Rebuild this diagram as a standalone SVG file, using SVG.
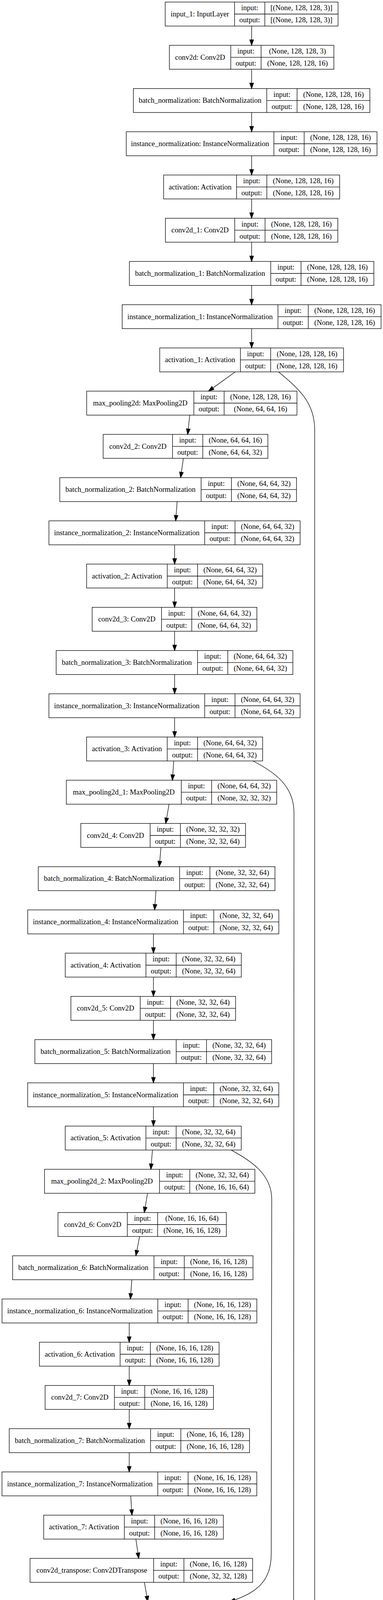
<svg xmlns="http://www.w3.org/2000/svg" width="981" height="7488" viewBox="0 0 981 7488">
<style>
.n rect{fill:#fff;stroke:#000;stroke-width:1.33}
.n path{fill:none;stroke:#000;stroke-width:1.33}
text{font-family:"Liberation Serif","Times New Roman",serif;font-size:18.67px;text-anchor:middle;fill:#000}
.e path{fill:none;stroke:#000;stroke-width:1.33;marker-end:url(#ah)}
</style>
<defs>
<marker id="ah" markerUnits="userSpaceOnUse" markerWidth="14" markerHeight="10" refX="13.33" refY="4.67" orient="auto" viewBox="0 0 13.33 9.33" overflow="visible">
<path d="M0,0 L13.33,4.67 L0,9.33 Z" fill="#000" stroke="#000" stroke-width="1.33"/>
</marker>
</defs>
<rect width="981" height="7488" fill="#fff"/>
<g id="nodes">
<g id="input_1" class="n" transform="translate(423.15,5.33)"><rect width="442.7" height="61.33"/><path d="M177.6,0V61.33M255.2,0V61.33M177.6,30.67H442.7"/><text x="88.8" y="36.5">input_1: InputLayer</text><text x="216.4" y="21">input:</text><text x="216.4" y="52">output:</text><text x="348.95" y="21">[(None, 128, 128, 3)]</text><text x="348.95" y="52">[(None, 128, 128, 3)]</text></g>
<g id="conv2d" class="n" transform="translate(433.8,116)"><rect width="421.4" height="61.33"/><path d="M157.3,0V61.33M234.9,0V61.33M157.3,30.67H421.4"/><text x="78.65" y="36.5">conv2d: Conv2D</text><text x="196.1" y="21">input:</text><text x="196.1" y="52">output:</text><text x="328.15" y="21">(None, 128, 128, 3)</text><text x="328.15" y="52">(None, 128, 128, 16)</text></g>
<g id="batch_normalization" class="n" transform="translate(341.6,226.67)"><rect width="605.8" height="61.33"/><path d="M341.7,0V61.33M419.3,0V61.33M341.7,30.67H605.8"/><text x="170.85" y="36.5">batch_normalization: BatchNormalization</text><text x="380.5" y="21">input:</text><text x="380.5" y="52">output:</text><text x="512.55" y="21">(None, 128, 128, 16)</text><text x="512.55" y="52">(None, 128, 128, 16)</text></g>
<g id="instance_normalization" class="n" transform="translate(323.4,337.34)"><rect width="642.2" height="61.33"/><path d="M378.1,0V61.33M455.7,0V61.33M378.1,30.67H642.2"/><text x="189.05" y="36.5">instance_normalization: InstanceNormalization</text><text x="416.9" y="21">input:</text><text x="416.9" y="52">output:</text><text x="548.95" y="21">(None, 128, 128, 16)</text><text x="548.95" y="52">(None, 128, 128, 16)</text></g>
<g id="activation" class="n" transform="translate(419.05,448.01)"><rect width="450.9" height="61.33"/><path d="M186.8,0V61.33M264.4,0V61.33M186.8,30.67H450.9"/><text x="93.4" y="36.5">activation: Activation</text><text x="225.6" y="21">input:</text><text x="225.6" y="52">output:</text><text x="357.65" y="21">(None, 128, 128, 16)</text><text x="357.65" y="52">(None, 128, 128, 16)</text></g>
<g id="conv2d_1" class="n" transform="translate(423.65,558.68)"><rect width="441.7" height="61.33"/><path d="M177.6,0V61.33M255.2,0V61.33M177.6,30.67H441.7"/><text x="88.8" y="36.5">conv2d_1: Conv2D</text><text x="216.4" y="21">input:</text><text x="216.4" y="52">output:</text><text x="348.45" y="21">(None, 128, 128, 16)</text><text x="348.45" y="52">(None, 128, 128, 16)</text></g>
<g id="batch_normalization_1" class="n" transform="translate(331.45,669.35)"><rect width="626.1" height="61.33"/><path d="M362,0V61.33M439.6,0V61.33M362,30.67H626.1"/><text x="181" y="36.5">batch_normalization_1: BatchNormalization</text><text x="400.8" y="21">input:</text><text x="400.8" y="52">output:</text><text x="532.85" y="21">(None, 128, 128, 16)</text><text x="532.85" y="52">(None, 128, 128, 16)</text></g>
<g id="instance_normalization_1" class="n" transform="translate(312.95,780.02)"><rect width="663.1" height="61.33"/><path d="M399,0V61.33M476.6,0V61.33M399,30.67H663.1"/><text x="199.5" y="36.5">instance_normalization_1: InstanceNormalization</text><text x="437.8" y="21">input:</text><text x="437.8" y="52">output:</text><text x="569.85" y="21">(None, 128, 128, 16)</text><text x="569.85" y="52">(None, 128, 128, 16)</text></g>
<g id="activation_1" class="n" transform="translate(409.15,890.69)"><rect width="470.7" height="61.33"/><path d="M206.6,0V61.33M284.2,0V61.33M206.6,30.67H470.7"/><text x="103.3" y="36.5">activation_1: Activation</text><text x="245.4" y="21">input:</text><text x="245.4" y="52">output:</text><text x="377.45" y="21">(None, 128, 128, 16)</text><text x="377.45" y="52">(None, 128, 128, 16)</text></g>
<g id="max_pooling2d" class="n" transform="translate(222,1001.36)"><rect width="538.6" height="61.33"/><path d="M274.5,0V61.33M352.1,0V61.33M274.5,30.67H538.6"/><text x="137.25" y="36.5">max_pooling2d: MaxPooling2D</text><text x="313.3" y="21">input:</text><text x="313.3" y="52">output:</text><text x="445.35" y="21">(None, 128, 128, 16)</text><text x="445.35" y="52">(None, 64, 64, 16)</text></g>
<g id="conv2d_2" class="n" transform="translate(264.25,1112.03)"><rect width="421.9" height="61.33"/><path d="M177.6,0V61.33M255.2,0V61.33M177.6,30.67H421.9"/><text x="88.8" y="36.5">conv2d_2: Conv2D</text><text x="216.4" y="21">input:</text><text x="216.4" y="52">output:</text><text x="338.55" y="21">(None, 64, 64, 16)</text><text x="338.55" y="52">(None, 64, 64, 32)</text></g>
<g id="batch_normalization_2" class="n" transform="translate(153.15,1222.7)"><rect width="606.3" height="61.33"/><path d="M362,0V61.33M439.6,0V61.33M362,30.67H606.3"/><text x="181" y="36.5">batch_normalization_2: BatchNormalization</text><text x="400.8" y="21">input:</text><text x="400.8" y="52">output:</text><text x="522.95" y="21">(None, 64, 64, 32)</text><text x="522.95" y="52">(None, 64, 64, 32)</text></g>
<g id="instance_normalization_2" class="n" transform="translate(125.35,1333.37)"><rect width="643.3" height="61.33"/><path d="M399,0V61.33M476.6,0V61.33M399,30.67H643.3"/><text x="199.5" y="36.5">instance_normalization_2: InstanceNormalization</text><text x="437.8" y="21">input:</text><text x="437.8" y="52">output:</text><text x="559.95" y="21">(None, 64, 64, 32)</text><text x="559.95" y="52">(None, 64, 64, 32)</text></g>
<g id="activation_2" class="n" transform="translate(221.85,1444.04)"><rect width="450.9" height="61.33"/><path d="M206.6,0V61.33M284.2,0V61.33M206.6,30.67H450.9"/><text x="103.3" y="36.5">activation_2: Activation</text><text x="245.4" y="21">input:</text><text x="245.4" y="52">output:</text><text x="367.55" y="21">(None, 64, 64, 32)</text><text x="367.55" y="52">(None, 64, 64, 32)</text></g>
<g id="conv2d_3" class="n" transform="translate(236.05,1554.71)"><rect width="421.9" height="61.33"/><path d="M177.6,0V61.33M255.2,0V61.33M177.6,30.67H421.9"/><text x="88.8" y="36.5">conv2d_3: Conv2D</text><text x="216.4" y="21">input:</text><text x="216.4" y="52">output:</text><text x="338.55" y="21">(None, 64, 64, 32)</text><text x="338.55" y="52">(None, 64, 64, 32)</text></g>
<g id="batch_normalization_3" class="n" transform="translate(143.85,1665.38)"><rect width="606.3" height="61.33"/><path d="M362,0V61.33M439.6,0V61.33M362,30.67H606.3"/><text x="181" y="36.5">batch_normalization_3: BatchNormalization</text><text x="400.8" y="21">input:</text><text x="400.8" y="52">output:</text><text x="522.95" y="21">(None, 64, 64, 32)</text><text x="522.95" y="52">(None, 64, 64, 32)</text></g>
<g id="instance_normalization_3" class="n" transform="translate(125.35,1776.05)"><rect width="643.3" height="61.33"/><path d="M399,0V61.33M476.6,0V61.33M399,30.67H643.3"/><text x="199.5" y="36.5">instance_normalization_3: InstanceNormalization</text><text x="437.8" y="21">input:</text><text x="437.8" y="52">output:</text><text x="559.95" y="21">(None, 64, 64, 32)</text><text x="559.95" y="52">(None, 64, 64, 32)</text></g>
<g id="activation_3" class="n" transform="translate(221.75,1886.72)"><rect width="450.9" height="61.33"/><path d="M206.6,0V61.33M284.2,0V61.33M206.6,30.67H450.9"/><text x="103.3" y="36.5">activation_3: Activation</text><text x="245.4" y="21">input:</text><text x="245.4" y="52">output:</text><text x="367.55" y="21">(None, 64, 64, 32)</text><text x="367.55" y="52">(None, 64, 64, 32)</text></g>
<g id="max_pooling2d_1" class="n" transform="translate(169.9,1997.39)"><rect width="538.8" height="61.33"/><path d="M294.5,0V61.33M372.1,0V61.33M294.5,30.67H538.8"/><text x="147.25" y="36.5">max_pooling2d_1: MaxPooling2D</text><text x="333.3" y="21">input:</text><text x="333.3" y="52">output:</text><text x="455.45" y="21">(None, 64, 64, 32)</text><text x="455.45" y="52">(None, 32, 32, 32)</text></g>
<g id="conv2d_4" class="n" transform="translate(206.95,2108.06)"><rect width="421.9" height="61.33"/><path d="M177.6,0V61.33M255.2,0V61.33M177.6,30.67H421.9"/><text x="88.8" y="36.5">conv2d_4: Conv2D</text><text x="216.4" y="21">input:</text><text x="216.4" y="52">output:</text><text x="338.55" y="21">(None, 32, 32, 32)</text><text x="338.55" y="52">(None, 32, 32, 64)</text></g>
<g id="batch_normalization_4" class="n" transform="translate(98.05,2218.73)"><rect width="606.3" height="61.33"/><path d="M362,0V61.33M439.6,0V61.33M362,30.67H606.3"/><text x="181" y="36.5">batch_normalization_4: BatchNormalization</text><text x="400.8" y="21">input:</text><text x="400.8" y="52">output:</text><text x="522.95" y="21">(None, 32, 32, 64)</text><text x="522.95" y="52">(None, 32, 32, 64)</text></g>
<g id="instance_normalization_4" class="n" transform="translate(70.95,2329.4)"><rect width="643.3" height="61.33"/><path d="M399,0V61.33M476.6,0V61.33M399,30.67H643.3"/><text x="199.5" y="36.5">instance_normalization_4: InstanceNormalization</text><text x="437.8" y="21">input:</text><text x="437.8" y="52">output:</text><text x="559.95" y="21">(None, 32, 32, 64)</text><text x="559.95" y="52">(None, 32, 32, 64)</text></g>
<g id="activation_4" class="n" transform="translate(167.15,2440.07)"><rect width="450.9" height="61.33"/><path d="M206.6,0V61.33M284.2,0V61.33M206.6,30.67H450.9"/><text x="103.3" y="36.5">activation_4: Activation</text><text x="245.4" y="21">input:</text><text x="245.4" y="52">output:</text><text x="367.55" y="21">(None, 32, 32, 64)</text><text x="367.55" y="52">(None, 32, 32, 64)</text></g>
<g id="conv2d_5" class="n" transform="translate(181.55,2550.74)"><rect width="421.9" height="61.33"/><path d="M177.6,0V61.33M255.2,0V61.33M177.6,30.67H421.9"/><text x="88.8" y="36.5">conv2d_5: Conv2D</text><text x="216.4" y="21">input:</text><text x="216.4" y="52">output:</text><text x="338.55" y="21">(None, 32, 32, 64)</text><text x="338.55" y="52">(None, 32, 32, 64)</text></g>
<g id="batch_normalization_5" class="n" transform="translate(89.35,2661.41)"><rect width="606.3" height="61.33"/><path d="M362,0V61.33M439.6,0V61.33M362,30.67H606.3"/><text x="181" y="36.5">batch_normalization_5: BatchNormalization</text><text x="400.8" y="21">input:</text><text x="400.8" y="52">output:</text><text x="522.95" y="21">(None, 32, 32, 64)</text><text x="522.95" y="52">(None, 32, 32, 64)</text></g>
<g id="instance_normalization_5" class="n" transform="translate(70.85,2772.08)"><rect width="643.3" height="61.33"/><path d="M399,0V61.33M476.6,0V61.33M399,30.67H643.3"/><text x="199.5" y="36.5">instance_normalization_5: InstanceNormalization</text><text x="437.8" y="21">input:</text><text x="437.8" y="52">output:</text><text x="559.95" y="21">(None, 32, 32, 64)</text><text x="559.95" y="52">(None, 32, 32, 64)</text></g>
<g id="activation_5" class="n" transform="translate(167.05,2882.75)"><rect width="450.9" height="61.33"/><path d="M206.6,0V61.33M284.2,0V61.33M206.6,30.67H450.9"/><text x="103.3" y="36.5">activation_5: Activation</text><text x="245.4" y="21">input:</text><text x="245.4" y="52">output:</text><text x="367.55" y="21">(None, 32, 32, 64)</text><text x="367.55" y="52">(None, 32, 32, 64)</text></g>
<g id="max_pooling2d_2" class="n" transform="translate(114,2993.42)"><rect width="538.8" height="61.33"/><path d="M294.5,0V61.33M372.1,0V61.33M294.5,30.67H538.8"/><text x="147.25" y="36.5">max_pooling2d_2: MaxPooling2D</text><text x="333.3" y="21">input:</text><text x="333.3" y="52">output:</text><text x="455.45" y="21">(None, 32, 32, 64)</text><text x="455.45" y="52">(None, 16, 16, 64)</text></g>
<g id="conv2d_6" class="n" transform="translate(148.5,3104.09)"><rect width="431.2" height="61.33"/><path d="M177.6,0V61.33M255.2,0V61.33M177.6,30.67H431.2"/><text x="88.8" y="36.5">conv2d_6: Conv2D</text><text x="216.4" y="21">input:</text><text x="216.4" y="52">output:</text><text x="343.2" y="21">(None, 16, 16, 64)</text><text x="343.2" y="52">(None, 16, 16, 128)</text></g>
<g id="batch_normalization_6" class="n" transform="translate(32.4,3214.76)"><rect width="615.6" height="61.33"/><path d="M362,0V61.33M439.6,0V61.33M362,30.67H615.6"/><text x="181" y="36.5">batch_normalization_6: BatchNormalization</text><text x="400.8" y="21">input:</text><text x="400.8" y="52">output:</text><text x="527.6" y="21">(None, 16, 16, 128)</text><text x="527.6" y="52">(None, 16, 16, 128)</text></g>
<g id="instance_normalization_6" class="n" transform="translate(5.2,3325.43)"><rect width="652.6" height="61.33"/><path d="M399,0V61.33M476.6,0V61.33M399,30.67H652.6"/><text x="199.5" y="36.5">instance_normalization_6: InstanceNormalization</text><text x="437.8" y="21">input:</text><text x="437.8" y="52">output:</text><text x="564.6" y="21">(None, 16, 16, 128)</text><text x="564.6" y="52">(None, 16, 16, 128)</text></g>
<g id="activation_6" class="n" transform="translate(101,3436.1)"><rect width="460.2" height="61.33"/><path d="M206.6,0V61.33M284.2,0V61.33M206.6,30.67H460.2"/><text x="103.3" y="36.5">activation_6: Activation</text><text x="245.4" y="21">input:</text><text x="245.4" y="52">output:</text><text x="372.2" y="21">(None, 16, 16, 128)</text><text x="372.2" y="52">(None, 16, 16, 128)</text></g>
<g id="conv2d_7" class="n" transform="translate(115.5,3546.77)"><rect width="431.2" height="61.33"/><path d="M177.6,0V61.33M255.2,0V61.33M177.6,30.67H431.2"/><text x="88.8" y="36.5">conv2d_7: Conv2D</text><text x="216.4" y="21">input:</text><text x="216.4" y="52">output:</text><text x="343.2" y="21">(None, 16, 16, 128)</text><text x="343.2" y="52">(None, 16, 16, 128)</text></g>
<g id="batch_normalization_7" class="n" transform="translate(23.6,3657.44)"><rect width="615.6" height="61.33"/><path d="M362,0V61.33M439.6,0V61.33M362,30.67H615.6"/><text x="181" y="36.5">batch_normalization_7: BatchNormalization</text><text x="400.8" y="21">input:</text><text x="400.8" y="52">output:</text><text x="527.6" y="21">(None, 16, 16, 128)</text><text x="527.6" y="52">(None, 16, 16, 128)</text></g>
<g id="instance_normalization_7" class="n" transform="translate(5.1,3768.11)"><rect width="652.6" height="61.33"/><path d="M399,0V61.33M476.6,0V61.33M399,30.67H652.6"/><text x="199.5" y="36.5">instance_normalization_7: InstanceNormalization</text><text x="437.8" y="21">input:</text><text x="437.8" y="52">output:</text><text x="564.6" y="21">(None, 16, 16, 128)</text><text x="564.6" y="52">(None, 16, 16, 128)</text></g>
<g id="activation_7" class="n" transform="translate(111.9,3878.78)"><rect width="460.2" height="61.33"/><path d="M206.6,0V61.33M284.2,0V61.33M206.6,30.67H460.2"/><text x="103.3" y="36.5">activation_7: Activation</text><text x="245.4" y="21">input:</text><text x="245.4" y="52">output:</text><text x="372.2" y="21">(None, 16, 16, 128)</text><text x="372.2" y="52">(None, 16, 16, 128)</text></g>
<g id="conv2d_transpose" class="n" transform="translate(76.9,3989.45)"><rect width="570.2" height="61.33"/><path d="M316.6,0V61.33M394.2,0V61.33M316.6,30.67H570.2"/><text x="158.3" y="36.5">conv2d_transpose: Conv2DTranspose</text><text x="355.4" y="21">input:</text><text x="355.4" y="52">output:</text><text x="482.2" y="21">(None, 16, 16, 128)</text><text x="482.2" y="52">(None, 32, 32, 128)</text></g>
<g id="concatenate" class="n" transform="translate(70.75,4100.12)"><rect width="633.3" height="61.33"/><path d="M213.4,0V61.33M291,0V61.33M213.4,30.67H633.3"/><text x="106.7" y="36.5">concatenate: Concatenate</text><text x="252.2" y="21">input:</text><text x="252.2" y="52">output:</text><text x="462.15" y="21">[(None, 32, 32, 128), (None, 32, 32, 64)]</text><text x="462.15" y="52">(None, 32, 32, 192)</text></g>
<g id="conv2d_8" class="n" transform="translate(171.7,4210.79)"><rect width="431.2" height="61.33"/><path d="M177.6,0V61.33M255.2,0V61.33M177.6,30.67H431.2"/><text x="88.8" y="36.5">conv2d_8: Conv2D</text><text x="216.4" y="21">input:</text><text x="216.4" y="52">output:</text><text x="343.2" y="21">(None, 32, 32, 192)</text><text x="343.2" y="52">(None, 32, 32, 128)</text></g>
<g id="batch_normalization_8" class="n" transform="translate(79.5,4321.46)"><rect width="615.6" height="61.33"/><path d="M362,0V61.33M439.6,0V61.33M362,30.67H615.6"/><text x="181" y="36.5">batch_normalization_8: BatchNormalization</text><text x="400.8" y="21">input:</text><text x="400.8" y="52">output:</text><text x="527.6" y="21">(None, 32, 32, 128)</text><text x="527.6" y="52">(None, 32, 32, 128)</text></g>
<g id="instance_normalization_8" class="n" transform="translate(61,4432.13)"><rect width="652.6" height="61.33"/><path d="M399,0V61.33M476.6,0V61.33M399,30.67H652.6"/><text x="199.5" y="36.5">instance_normalization_8: InstanceNormalization</text><text x="437.8" y="21">input:</text><text x="437.8" y="52">output:</text><text x="564.6" y="21">(None, 32, 32, 128)</text><text x="564.6" y="52">(None, 32, 32, 128)</text></g>
<g id="activation_8" class="n" transform="translate(157.2,4542.8)"><rect width="460.2" height="61.33"/><path d="M206.6,0V61.33M284.2,0V61.33M206.6,30.67H460.2"/><text x="103.3" y="36.5">activation_8: Activation</text><text x="245.4" y="21">input:</text><text x="245.4" y="52">output:</text><text x="372.2" y="21">(None, 32, 32, 128)</text><text x="372.2" y="52">(None, 32, 32, 128)</text></g>
<g id="conv2d_9" class="n" transform="translate(171.7,4653.47)"><rect width="431.2" height="61.33"/><path d="M177.6,0V61.33M255.2,0V61.33M177.6,30.67H431.2"/><text x="88.8" y="36.5">conv2d_9: Conv2D</text><text x="216.4" y="21">input:</text><text x="216.4" y="52">output:</text><text x="343.2" y="21">(None, 32, 32, 128)</text><text x="343.2" y="52">(None, 32, 32, 128)</text></g>
<g id="batch_normalization_9" class="n" transform="translate(79.5,4764.14)"><rect width="615.6" height="61.33"/><path d="M362,0V61.33M439.6,0V61.33M362,30.67H615.6"/><text x="181" y="36.5">batch_normalization_9: BatchNormalization</text><text x="400.8" y="21">input:</text><text x="400.8" y="52">output:</text><text x="527.6" y="21">(None, 32, 32, 128)</text><text x="527.6" y="52">(None, 32, 32, 128)</text></g>
<g id="instance_normalization_9" class="n" transform="translate(61,4874.81)"><rect width="652.6" height="61.33"/><path d="M399,0V61.33M476.6,0V61.33M399,30.67H652.6"/><text x="199.5" y="36.5">instance_normalization_9: InstanceNormalization</text><text x="437.8" y="21">input:</text><text x="437.8" y="52">output:</text><text x="564.6" y="21">(None, 32, 32, 128)</text><text x="564.6" y="52">(None, 32, 32, 128)</text></g>
<g id="activation_9" class="n" transform="translate(165.1,4985.48)"><rect width="460.2" height="61.33"/><path d="M206.6,0V61.33M284.2,0V61.33M206.6,30.67H460.2"/><text x="103.3" y="36.5">activation_9: Activation</text><text x="245.4" y="21">input:</text><text x="245.4" y="52">output:</text><text x="372.2" y="21">(None, 32, 32, 128)</text><text x="372.2" y="52">(None, 32, 32, 128)</text></g>
<g id="conv2d_transpose_1" class="n" transform="translate(116.4,5096.15)"><rect width="589.6" height="61.33"/><path d="M336,0V61.33M413.6,0V61.33M336,30.67H589.6"/><text x="168" y="36.5">conv2d_transpose_1: Conv2DTranspose</text><text x="374.8" y="21">input:</text><text x="374.8" y="52">output:</text><text x="501.6" y="21">(None, 32, 32, 128)</text><text x="501.6" y="52">(None, 64, 64, 64)</text></g>
<g id="concatenate_1" class="n" transform="translate(120.75,5206.82)"><rect width="642.9" height="61.33"/><path d="M233,0V61.33M310.6,0V61.33M233,30.67H642.9"/><text x="116.5" y="36.5">concatenate_1: Concatenate</text><text x="271.8" y="21">input:</text><text x="271.8" y="52">output:</text><text x="476.75" y="21">[(None, 64, 64, 64), (None, 64, 64, 32)]</text><text x="476.75" y="52">(None, 64, 64, 96)</text></g>
<g id="conv2d_10" class="n" transform="translate(226.25,5317.49)"><rect width="431.1" height="61.33"/><path d="M186.8,0V61.33M264.4,0V61.33M186.8,30.67H431.1"/><text x="93.4" y="36.5">conv2d_10: Conv2D</text><text x="225.6" y="21">input:</text><text x="225.6" y="52">output:</text><text x="347.75" y="21">(None, 64, 64, 96)</text><text x="347.75" y="52">(None, 64, 64, 64)</text></g>
<g id="batch_normalization_10" class="n" transform="translate(134.15,5428.16)"><rect width="615.3" height="61.33"/><path d="M371,0V61.33M448.6,0V61.33M371,30.67H615.3"/><text x="185.5" y="36.5">batch_normalization_10: BatchNormalization</text><text x="409.8" y="21">input:</text><text x="409.8" y="52">output:</text><text x="531.95" y="21">(None, 64, 64, 64)</text><text x="531.95" y="52">(None, 64, 64, 64)</text></g>
<g id="instance_normalization_10" class="n" transform="translate(114.95,5538.83)"><rect width="653.7" height="61.33"/><path d="M409.4,0V61.33M487,0V61.33M409.4,30.67H653.7"/><text x="204.7" y="36.5">instance_normalization_10: InstanceNormalization</text><text x="448.2" y="21">input:</text><text x="448.2" y="52">output:</text><text x="570.35" y="21">(None, 64, 64, 64)</text><text x="570.35" y="52">(None, 64, 64, 64)</text></g>
<g id="activation_10" class="n" transform="translate(211.65,5649.5)"><rect width="460.3" height="61.33"/><path d="M216,0V61.33M293.6,0V61.33M216,30.67H460.3"/><text x="108" y="36.5">activation_10: Activation</text><text x="254.8" y="21">input:</text><text x="254.8" y="52">output:</text><text x="376.95" y="21">(None, 64, 64, 64)</text><text x="376.95" y="52">(None, 64, 64, 64)</text></g>
<g id="conv2d_11" class="n" transform="translate(226.25,5760.17)"><rect width="431.1" height="61.33"/><path d="M186.8,0V61.33M264.4,0V61.33M186.8,30.67H431.1"/><text x="93.4" y="36.5">conv2d_11: Conv2D</text><text x="225.6" y="21">input:</text><text x="225.6" y="52">output:</text><text x="347.75" y="21">(None, 64, 64, 64)</text><text x="347.75" y="52">(None, 64, 64, 64)</text></g>
<g id="batch_normalization_11" class="n" transform="translate(134.15,5870.84)"><rect width="615.3" height="61.33"/><path d="M371,0V61.33M448.6,0V61.33M371,30.67H615.3"/><text x="185.5" y="36.5">batch_normalization_11: BatchNormalization</text><text x="409.8" y="21">input:</text><text x="409.8" y="52">output:</text><text x="531.95" y="21">(None, 64, 64, 64)</text><text x="531.95" y="52">(None, 64, 64, 64)</text></g>
<g id="instance_normalization_11" class="n" transform="translate(114.95,5981.51)"><rect width="653.7" height="61.33"/><path d="M409.4,0V61.33M487,0V61.33M409.4,30.67H653.7"/><text x="204.7" y="36.5">instance_normalization_11: InstanceNormalization</text><text x="448.2" y="21">input:</text><text x="448.2" y="52">output:</text><text x="570.35" y="21">(None, 64, 64, 64)</text><text x="570.35" y="52">(None, 64, 64, 64)</text></g>
<g id="activation_11" class="n" transform="translate(218.25,6092.18)"><rect width="460.3" height="61.33"/><path d="M216,0V61.33M293.6,0V61.33M216,30.67H460.3"/><text x="108" y="36.5">activation_11: Activation</text><text x="254.8" y="21">input:</text><text x="254.8" y="52">output:</text><text x="376.95" y="21">(None, 64, 64, 64)</text><text x="376.95" y="52">(None, 64, 64, 64)</text></g>
<g id="conv2d_transpose_2" class="n" transform="translate(162.05,6202.85)"><rect width="600.1" height="61.33"/><path d="M336,0V61.33M413.6,0V61.33M336,30.67H600.1"/><text x="168" y="36.5">conv2d_transpose_2: Conv2DTranspose</text><text x="374.8" y="21">input:</text><text x="374.8" y="52">output:</text><text x="506.85" y="21">(None, 64, 64, 64)</text><text x="506.85" y="52">(None, 128, 128, 32)</text></g>
<g id="concatenate_2" class="n" transform="translate(288.45,6313.52)"><rect width="683.5" height="61.33"/><path d="M233,0V61.33M310.6,0V61.33M233,30.67H683.5"/><text x="116.5" y="36.5">concatenate_2: Concatenate</text><text x="271.8" y="21">input:</text><text x="271.8" y="52">output:</text><text x="497.05" y="21">[(None, 128, 128, 32), (None, 128, 128, 16)]</text><text x="497.05" y="52">(None, 128, 128, 48)</text></g>
<g id="conv2d_12" class="n" transform="translate(404.75,6424.19)"><rect width="450.9" height="61.33"/><path d="M186.8,0V61.33M264.4,0V61.33M186.8,30.67H450.9"/><text x="93.4" y="36.5">conv2d_12: Conv2D</text><text x="225.6" y="21">input:</text><text x="225.6" y="52">output:</text><text x="357.65" y="21">(None, 128, 128, 48)</text><text x="357.65" y="52">(None, 128, 128, 32)</text></g>
<g id="batch_normalization_12" class="n" transform="translate(312.65,6534.86)"><rect width="635.1" height="61.33"/><path d="M371,0V61.33M448.6,0V61.33M371,30.67H635.1"/><text x="185.5" y="36.5">batch_normalization_12: BatchNormalization</text><text x="409.8" y="21">input:</text><text x="409.8" y="52">output:</text><text x="541.85" y="21">(None, 128, 128, 32)</text><text x="541.85" y="52">(None, 128, 128, 32)</text></g>
<g id="instance_normalization_12" class="n" transform="translate(293.45,6645.53)"><rect width="673.5" height="61.33"/><path d="M409.4,0V61.33M487,0V61.33M409.4,30.67H673.5"/><text x="204.7" y="36.5">instance_normalization_12: InstanceNormalization</text><text x="448.2" y="21">input:</text><text x="448.2" y="52">output:</text><text x="580.25" y="21">(None, 128, 128, 32)</text><text x="580.25" y="52">(None, 128, 128, 32)</text></g>
<g id="activation_12" class="n" transform="translate(390.15,6756.2)"><rect width="480.1" height="61.33"/><path d="M216,0V61.33M293.6,0V61.33M216,30.67H480.1"/><text x="108" y="36.5">activation_12: Activation</text><text x="254.8" y="21">input:</text><text x="254.8" y="52">output:</text><text x="386.85" y="21">(None, 128, 128, 32)</text><text x="386.85" y="52">(None, 128, 128, 32)</text></g>
<g id="conv2d_13" class="n" transform="translate(404.75,6866.87)"><rect width="450.9" height="61.33"/><path d="M186.8,0V61.33M264.4,0V61.33M186.8,30.67H450.9"/><text x="93.4" y="36.5">conv2d_13: Conv2D</text><text x="225.6" y="21">input:</text><text x="225.6" y="52">output:</text><text x="357.65" y="21">(None, 128, 128, 32)</text><text x="357.65" y="52">(None, 128, 128, 32)</text></g>
<g id="batch_normalization_13" class="n" transform="translate(312.65,6977.54)"><rect width="635.1" height="61.33"/><path d="M371,0V61.33M448.6,0V61.33M371,30.67H635.1"/><text x="185.5" y="36.5">batch_normalization_13: BatchNormalization</text><text x="409.8" y="21">input:</text><text x="409.8" y="52">output:</text><text x="541.85" y="21">(None, 128, 128, 32)</text><text x="541.85" y="52">(None, 128, 128, 32)</text></g>
<g id="instance_normalization_13" class="n" transform="translate(293.45,7088.21)"><rect width="673.5" height="61.33"/><path d="M409.4,0V61.33M487,0V61.33M409.4,30.67H673.5"/><text x="204.7" y="36.5">instance_normalization_13: InstanceNormalization</text><text x="448.2" y="21">input:</text><text x="448.2" y="52">output:</text><text x="580.25" y="21">(None, 128, 128, 32)</text><text x="580.25" y="52">(None, 128, 128, 32)</text></g>
<g id="activation_13" class="n" transform="translate(390.15,7198.88)"><rect width="480.1" height="61.33"/><path d="M216,0V61.33M293.6,0V61.33M216,30.67H480.1"/><text x="108" y="36.5">activation_13: Activation</text><text x="254.8" y="21">input:</text><text x="254.8" y="52">output:</text><text x="386.85" y="21">(None, 128, 128, 32)</text><text x="386.85" y="52">(None, 128, 128, 32)</text></g>
<g id="conv2d_14" class="n" transform="translate(404.75,7309.55)"><rect width="450.9" height="61.33"/><path d="M186.8,0V61.33M264.4,0V61.33M186.8,30.67H450.9"/><text x="93.4" y="36.5">conv2d_14: Conv2D</text><text x="225.6" y="21">input:</text><text x="225.6" y="52">output:</text><text x="357.65" y="21">(None, 128, 128, 32)</text><text x="357.65" y="52">(None, 128, 128, 3)</text></g>
<g id="activation_14" class="n" transform="translate(395.2,7420.22)"><rect width="470" height="61.33"/><path d="M216,0V61.33M293.6,0V61.33M216,30.67H470"/><text x="108" y="36.5">activation_14: Activation</text><text x="254.8" y="21">input:</text><text x="254.8" y="52">output:</text><text x="381.8" y="21">(None, 128, 128, 3)</text><text x="381.8" y="52">(None, 128, 128, 3)</text></g>
</g>
<g id="connectors" class="e">
<path d="M644.5,66.66V116"/>
<path d="M644.5,177.33V226.67"/>
<path d="M644.5,288V337.34"/>
<path d="M644.5,398.67V448.01"/>
<path d="M644.5,509.34V558.68"/>
<path d="M644.5,620.01V669.35"/>
<path d="M644.5,730.68V780.02"/>
<path d="M644.5,841.35V890.69"/>
<path d="M602.6,952L534,1001.36"/>
<path d="M486,1062.7L480.7,1112.03"/>
<path d="M469.6,1173.4L462.7,1222.7"/>
<path d="M453.7,1284L450,1333.37"/>
<path d="M447.3,1394.7V1444.04"/>
<path d="M447.3,1505.4V1554.71"/>
<path d="M447.3,1616V1665.38"/>
<path d="M447.3,1726.7V1776.05"/>
<path d="M447.3,1837.4V1886.72"/>
<path d="M445,1948.05L441.5,1997.39"/>
<path d="M433,2058.7L424.5,2108.06"/>
<path d="M412.3,2169.4L408,2218.73"/>
<path d="M399.5,2280.1L396,2329.4"/>
<path d="M393,2390.7V2440.07"/>
<path d="M393,2501.4V2550.74"/>
<path d="M393,2612.1V2661.41"/>
<path d="M393,2722.7V2772.08"/>
<path d="M393,2833.4V2882.75"/>
<path d="M390.5,2944.1L386.3,2993.42"/>
<path d="M377.9,3054.75L369.5,3104.09"/>
<path d="M357.5,3165.4L348,3214.76"/>
<path d="M337.7,3276.1L334,3325.43"/>
<path d="M331,3386.8V3436.1"/>
<path d="M331,3497.4V3546.77"/>
<path d="M331,3608.1V3657.44"/>
<path d="M331,3718.8V3768.11"/>
<path d="M334.8,3829.4L338,3878.78"/>
<path d="M348,3940.1L355.4,3989.45"/>
<path d="M369.8,4050.8L378.6,4100.12"/>
<path d="M387.4,4161.45V4210.79"/>
<path d="M387.4,4272.1V4321.46"/>
<path d="M387.4,4382.8V4432.13"/>
<path d="M387.4,4493.5V4542.8"/>
<path d="M387.4,4604.1V4653.47"/>
<path d="M387.4,4714.8V4764.14"/>
<path d="M387.4,4825.5V4874.81"/>
<path d="M389.9,4936.1L392.4,4985.48"/>
<path d="M400.5,5046.8L405.5,5096.15"/>
<path d="M419.3,5157.5L433,5206.82"/>
<path d="M441.8,5268.15V5317.49"/>
<path d="M441.8,5378.8V5428.16"/>
<path d="M441.8,5489.5V5538.83"/>
<path d="M441.8,5600.2V5649.5"/>
<path d="M441.8,5710.8V5760.17"/>
<path d="M441.8,5821.5V5870.84"/>
<path d="M441.8,5932.2V5981.51"/>
<path d="M444.3,6042.8L446.2,6092.18"/>
<path d="M452.4,6153.5L457.4,6202.85"/>
<path d="M508.8,6264.2L583.9,6313.52"/>
<path d="M630.2,6374.85V6424.19"/>
<path d="M630.2,6485.5V6534.86"/>
<path d="M630.2,6596.2V6645.53"/>
<path d="M630.2,6706.9V6756.2"/>
<path d="M630.2,6817.5V6866.87"/>
<path d="M630.2,6928.2V6977.54"/>
<path d="M630.2,7038.9V7088.21"/>
<path d="M630.2,7149.5V7198.88"/>
<path d="M630.2,7260.2V7309.55"/>
<path d="M630.2,7370.9V7420.22"/>
<path d="M713.4,952C765,995 806,1030 806,1100L806,6160C806,6250 760,6290 715.3,6313.52"/>
<path d="M648,1948C700,1975 753,2010 753,2080L751.5,5076C751.5,5145 715,5188 650.8,5206.82"/>
<path d="M592.2,2944.1C640,2970 696,3005 696,3070L694.6,3980C694.6,4045 660,4078 588.2,4100.12"/>
</g>
</svg>
